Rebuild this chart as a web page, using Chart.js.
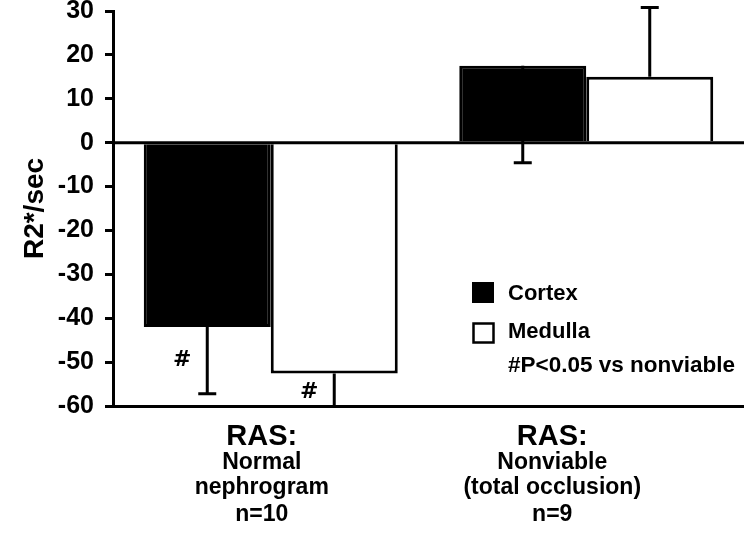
<!DOCTYPE html>
<html>
<head>
<meta charset="utf-8">
<script src="https://cdn.jsdelivr.net/npm/chart.js@4.4.1/dist/chart.umd.min.js"></script>
<style>
  html, body { margin: 0; padding: 0; background: #fff; }
  #wrap { width: 744px; height: 535px; position: relative; }
</style>
</head>
<body>
<div id="wrap"><canvas id="chart"></canvas></div>
<script>
// data
const groups = ['Normal', 'Nonviable'];
const groupLines = [
    ['RAS:', 'Normal', 'nephrogram', 'n=10'],
    ['RAS:', 'Nonviable', '(total occlusion)', 'n=9']
];
const cortex = [-42, 17.5];
const medulla = [-52.6, 15];
// signed error: drawn one way only, from the bar end
const cortexErr = [-15.2, -22.1];
const medullaErr = [-10, 15.8];
// "#" significance markers (value where the mark sits)
const cortexMark = [-49.5, null];
const medullaMark = [-56.8, null];
const yTicks = [30, 20, 10, 0, -10, -20, -30, -40, -50, -60];

const FONT = '"Liberation Sans", Arial, sans-serif';

// error bars + "#" marks
const errorBars = {
    id: 'errorBars',
    afterDatasetsDraw(chart) {
        const ctx = chart.ctx;
        const y = chart.scales.y;
        const area = chart.chartArea;
        const errs = [cortexErr, medullaErr];
        const marks = [cortexMark, medullaMark];
        ctx.save();
        ctx.beginPath();
        ctx.rect(area.left, area.top - 10, area.right - area.left, area.bottom - area.top + 10);
        ctx.clip();
        ctx.strokeStyle = '#000';
        ctx.lineWidth = 3;
        chart.data.datasets.forEach((ds, di) => {
            const meta = chart.getDatasetMeta(di);
            meta.data.forEach((bar, i) => {
                const v = ds.data[i];
                const end = v + errs[di][i];
                const x = bar.x;
                const y0 = y.getPixelForValue(v);
                const y1 = y.getPixelForValue(end);
                ctx.beginPath();
                ctx.moveTo(x, y0);
                ctx.lineTo(x, y1);
                ctx.moveTo(x - 9, y1);
                ctx.lineTo(x + 9, y1);
                ctx.stroke();
            });
        });
        ctx.restore();

        ctx.save();
        ctx.fillStyle = '#000';
        ctx.font = 'bold 22px "DejaVu Sans", ' + FONT;
        ctx.textAlign = 'center';
        ctx.textBaseline = 'middle';
        chart.data.datasets.forEach((ds, di) => {
            const meta = chart.getDatasetMeta(di);
            meta.data.forEach((bar, i) => {
                const m = marks[di][i];
                if (m === null) return;
                ctx.fillText('#', bar.x - 25, y.getPixelForValue(m));
            });
        });
        ctx.restore();
    }
};

// zero line, legend, category labels
const decorations = {
    id: 'decorations',
    afterDraw(chart) {
        const ctx = chart.ctx;
        const area = chart.chartArea;
        const y = chart.scales.y;
        const x = chart.scales.x;
        ctx.save();
        ctx.strokeStyle = '#000';
        ctx.lineWidth = 3;
        const y0 = y.getPixelForValue(0);
        ctx.beginPath();
        ctx.moveTo(area.left, y0);
        ctx.lineTo(chart.width, y0);
        ctx.stroke();

        // legend
        ctx.fillStyle = '#000';
        ctx.fillRect(472, 282, 22, 21);
        ctx.lineWidth = 2.5;
        ctx.strokeRect(473.5, 323.5, 20, 19);
        ctx.font = 'bold 22px ' + FONT;
        ctx.textAlign = 'left';
        ctx.textBaseline = 'middle';
        ctx.fillText('Cortex', 508, 294);
        ctx.fillText('Medulla', 508, 332);
        ctx.font = 'bold 22.5px ' + FONT;
        ctx.fillText('#P<0.05 vs nonviable', 508, 366);

        // category labels
        const shifts = [-9, -34];
        const lineY = [437, 463, 488, 515];
        ctx.textAlign = 'center';
        groupLines.forEach((lines, i) => {
            const cx = x.getPixelForValue(i) + shifts[i];
            lines.forEach((t, j) => {
                ctx.font = (j === 0 ? 'bold 29px ' : 'bold 23px ') + FONT;
                ctx.fillText(t, cx, lineY[j]);
            });
        });
        ctx.restore();
    }
};

new Chart(document.getElementById('chart'), {
    type: 'bar',
    data: {
        labels: groups,
        datasets: [
            {
                label: 'Cortex',
                data: cortex,
                backgroundColor: '#000',
                borderColor: '#000',
                borderWidth: 3,
                borderSkipped: 'start'
            },
            {
                label: 'Medulla',
                data: medulla,
                backgroundColor: '#fff',
                borderColor: '#000',
                borderWidth: 3,
                borderSkipped: 'start'
            }
        ]
    },
    options: {
        responsive: true,
        maintainAspectRatio: false,
        animation: false,
        devicePixelRatio: 1,
        layout: { padding: { top: 11, right: 0, left: 0, bottom: 0 } },
        datasets: { bar: { categoryPercentage: 0.805, barPercentage: 1 } },
        plugins: {
            legend: { display: false },
            tooltip: { enabled: false }
        },
        scales: {
            x: {
                grid: { display: false },
                border: { display: true, color: '#000', width: 3 },
                ticks: { display: false },
                afterFit: (s) => { s.height = 129; s.paddingLeft = 0; s.paddingRight = 0; }
            },
            y: {
                min: -60,
                max: 30,
                afterBuildTicks: (s) => { s.ticks = yTicks.map(v => ({ value: v })); },
                afterFit: (s) => { s.width = 113; s.paddingTop = 0; s.paddingBottom = 0; },
                grid: {
                    drawOnChartArea: false,
                    color: '#000',
                    lineWidth: 3,
                    tickLength: 8
                },
                border: { display: true, color: '#000', width: 3 },
                ticks: {
                    color: '#000',
                    padding: 11,
                    font: { family: FONT, size: 25, weight: 'bold' }
                },
                title: {
                    display: true,
                    text: 'R2*/sec',
                    color: '#000',
                    padding: { top: 18, bottom: 0 },
                    font: { family: FONT, size: 28, weight: 'bold' }
                }
            }
        }
    },
    plugins: [errorBars, decorations]
});
</script>
</body>
</html>
